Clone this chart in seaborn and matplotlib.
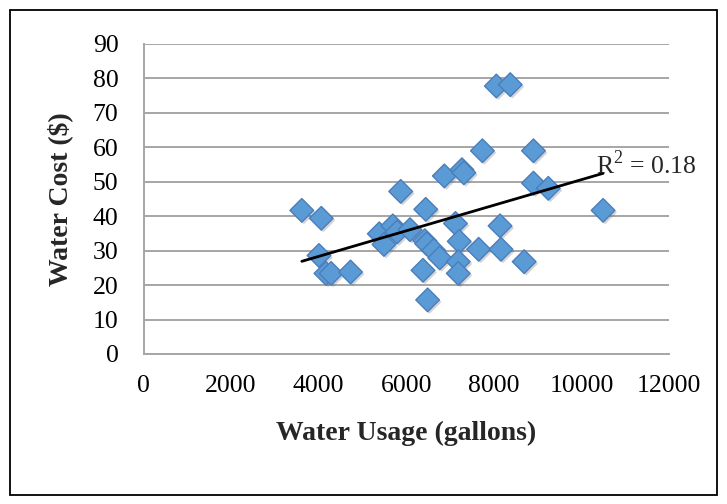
import numpy as np
import pandas as pd
import matplotlib
matplotlib.use("Agg")
import matplotlib.pyplot as plt
import matplotlib.patheffects as pe
from matplotlib.patches import Rectangle
import seaborn as sns

usage = [3615, 4060, 4007, 4166, 4283, 4728, 5385, 5491, 5693, 5788, 5873, 6085,
         6445, 6424, 6467, 6382, 6488, 6626, 6764, 6870, 7124, 7209, 7188, 7188,
         7272, 7315, 7654, 7739, 8057, 8142, 8163, 8375, 8693, 8905, 8905, 9244, 10495]
cost = [41.7, 39.4, 28.6, 23.4, 23.4, 23.8, 34.9, 31.8, 37.2, 35.4, 47.2, 36.1,
        42.0, 32.9, 32.0, 24.3, 15.7, 30.1, 27.9, 51.7, 37.9, 32.7, 26.8, 23.4,
        53.5, 52.6, 30.4, 59.0, 77.8, 37.2, 30.4, 78.2, 26.8, 59.0, 49.6, 48.1, 41.7]
x_ticks = [0, 2000, 4000, 6000, 8000, 10000, 12000]
y_ticks = [0, 10, 20, 30, 40, 50, 60, 70, 80, 90]
x_label = "Water Usage (gallons)"
y_label = "Water Cost ($)"
r2_text = "R$^2$ = 0.18"

df = pd.DataFrame({"usage": usage, "cost": cost})

sns.set_style("white")
plt.rcParams["font.family"] = ["Liberation Serif", "DejaVu Serif"]
plt.rcParams["mathtext.fontset"] = "custom"
plt.rcParams["mathtext.rm"] = "Liberation Serif"

W, H = 727, 504
fig = plt.figure(figsize=(W / 100, H / 100), dpi=100)
ax_l, ax_r, ax_t, ax_b = 143.5, 669, 44, 354
ax = fig.add_axes([ax_l / W, 1 - ax_b / H, (ax_r - ax_l) / W, (ax_b - ax_t) / H])

ax.set_xlim(0, 12000)
ax.set_ylim(0, 90)
ax.set_xticks(x_ticks)
ax.set_yticks(y_ticks)
ax.yaxis.grid(True, color="#A6A6A6", linewidth=1.4)
ax.xaxis.grid(False)
ax.set_axisbelow(True)
for s in ["top", "right"]:
    ax.spines[s].set_visible(False)
for s in ["left", "bottom"]:
    ax.spines[s].set_color("#A6A6A6")
    ax.spines[s].set_linewidth(1.4)
ax.tick_params(axis="both", which="major", direction="out", length=6, width=1.4,
               color="#A6A6A6", labelsize=18.5, labelcolor="black")
ax.tick_params(axis="x", pad=9)
ax.tick_params(axis="y", pad=12)

sns.scatterplot(data=df, x="usage", y="cost", ax=ax, marker="D", s=145,
                color="#5B9BD5", edgecolor="#4A7EBB", linewidth=1.0, zorder=3)
for coll in ax.collections:
    coll.set_path_effects([pe.SimplePatchShadow(offset=(1.5, -1.5), alpha=0.25, shadow_rgbFace="#555555"),
                           pe.Normal()])

slope, intercept = np.polyfit(df["usage"], df["cost"], 1)
xs = np.array([df["usage"].min(), df["usage"].max()])
sns.lineplot(x=xs, y=slope * xs + intercept, ax=ax, color="black", linewidth=2.0, zorder=4)

ax.text(10330, 55.0, r2_text, fontsize=18.5, va="center", ha="left", zorder=5)

ax.set_xlabel(x_label, fontsize=20, fontweight="bold", labelpad=17)
ax.set_ylabel(y_label, fontsize=20, fontweight="bold", labelpad=14)

# outer chart frame
fig.add_artist(Rectangle((10 / W, 1 - 495 / H), (717 - 10) / W, (495 - 10) / H,
                         transform=fig.transFigure, fill=False, edgecolor="black",
                         linewidth=1.3))

fig.savefig("out.png", dpi=100)
